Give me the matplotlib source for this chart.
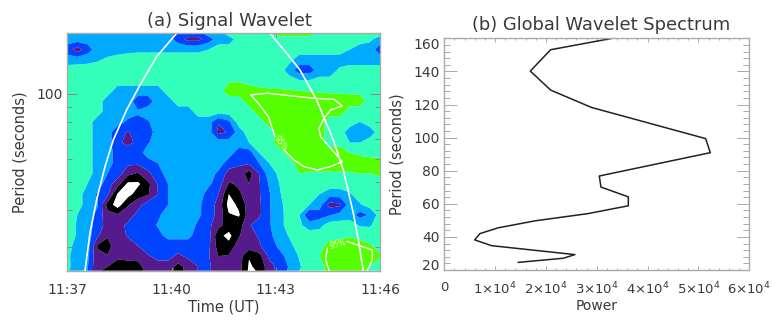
import numpy as np
import matplotlib
matplotlib.use('Agg')
import matplotlib.pyplot as plt
from matplotlib.ticker import FixedLocator, NullFormatter

# wavelet power, in colour band units
# 0 green, 1 aqua, 2 light blue, 3 blue, 4 purple, 5 black, 6 white
wave_time = [0.00, 0.29, 0.58, 0.87, 1.16, 1.45, 1.74, 2.03, 2.32, 2.61, 2.90,
             3.19, 3.48, 3.77, 4.06, 4.35, 4.65, 4.94, 5.23, 5.52, 5.81, 6.10,
             6.39, 6.68, 6.97, 7.26, 7.55, 7.84, 8.13, 8.42, 8.71, 9.00]
wave_period = [160.6, 153.1, 141.3, 130.3, 120.1, 110.7, 102.1, 94.2, 86.8,
               80.1, 73.8, 68.1, 62.8, 57.9, 53.4, 49.2, 45.4, 41.8, 38.6,
               35.6, 32.8, 30.3, 27.9, 25.7, 24.9]
wave_power = [
    [2,2,2,2,2,2,2,2,2,2,2,3,3,3,2,2,1,1,1,1,1,0,0,0,0,1,1,1,1,1,1,1],
    [2,2,2,2,2,2,2,2,2,2,2,3,3.8,3.8,3,2,2,1,1,1,1,1,1,1,1,1,1,1,1,1,1.3,2],
    [3,4,3,2,2,2,1.8,1.7,1.7,1.7,1.7,1.7,1.7,1.7,1.5,1,1,1,1,1,1,1,1,1,1,1,1,1,1.5,2,2,3],
    [2,1.9,1.8,1.6,1.3,1,1,1,1,1,1,1,1,1,1,1,1,1,1,1,1,1,1.2,2,2,2,2,2,2,2,2,2],
    [1,1,1,1,1,1,1,1,1,1,1,1,1,1,1,1,1,1,1,1,1,1,2,3,3,2,2,1.3,1,1,1,1],
    [1,1,1,1,1,1,1,1,1,1,1,1,1,1,1,1,.62,.58,.86,1,1,1,1,1.4,1.4,1.2,1.2,1,1,1,1,1],
    [1,1,1,1,1,2,2,2,2,2,1,1,1,1,1,1,0,0,0,.22,.33,.38,.44,.49,.53,.6,.65,.7,.74,.8,1,1],
    [1,1,1,1,2,2,2,3,3,2,2,1,1,1,1,1,1,1,0,0,0,0,0,0,0,0,0,0,0,0,1,1],
    [1,1,1,1,2,2,2,2.4,2,2,2,2,2,1,1,1,1,1,1,0,0,0,0,0,0,0,0,0,1,1,1,1],
    [1,1,1,2,2,2,2.7,2.7,2.6,2,2,2,2,2,2,3.4,2.7,1,1,1,0,0,0,0,0,0,1,1,1,1.5,1,1],
    [1,1,1,2,2,3.3,3.55,3.3,3,2,2,2,2,2,2,3.8,3.4,2,1,1,1,0,0,0,0,0,1,1,2,2,2,1],
    [1,1,1,2,2,3.3,3.75,3.3,2.6,2,2,2,2,2,2,2,2,2,1.5,1,1,0,0,0,0,0,1,.8,1.5,1.5,1,1],
    [1,1,1,2,2,3,3,3,2,2,2,2,2,2,2,2,2,3,3,1.5,1,1,0,0,0,0,0,0,.5,.7,.9,1],
    [1,1,1,2,2,3,3.3,3.3,3,2.5,2,2,2,2,2,2,3,3.3,3.4,2.5,1.5,1,1,0,0,0,0,0,0,0,0,0],
    [1,1,1,2,2.5,3,4.2,4.6,3.7,3,2,2,2,2,2,2.7,3.9,4,4.9,3.5,2,1.3,1,.5,.6,.6,.6,.6,.6,.5,.5,.3],
    [1,1,1.5,2,3,4.1,5.7,5.7,4.8,3.4,2.5,2,2,2,2.3,3,4.6,4.4,4.5,3.6,2.4,1.5,1,1,1,1,1,1,1,1,1,1],
    [1,1,2,2.6,3.3,5.6,5.9,5,4.6,3.5,2.5,2,2,2,2.9,3.5,5.5,4.6,4.2,3.6,2.6,1.6,1,1,1,1.5,2,2,1.6,1,1,1],
    [1,1,2,2.4,4.9,6,4.6,3.9,3,3,2.5,2,2,2.3,3,3.8,5.9,5.3,4,3.7,2.6,1.8,1,1,1.5,2,3.9,3.7,2,1.6,1,1],
    [1,1.5,2,2.8,4.2,4.4,4,3.2,3,2.7,2,2,2,2.3,3,3.8,5.4,5.6,4,3.7,2.6,1.9,1,1.5,3.55,3,2.6,2.2,2,2.9,2.4,1],
    [1,1.6,2,3,3.9,3.9,3.3,3,3,2.4,2,2,2,2.7,3.2,4.2,4.9,5,3.6,3,2.6,1.9,1,1.3,2,1.8,1,1,1,1.6,1.6,1],
    [1,1.6,2,3.3,4.4,4,3.4,3,3,2.8,2.2,2.2,2.2,3,3.1,5.2,5.8,4.6,3.8,3.4,2.7,2.1,1.4,1,1,1,1,.8,.6,.8,1,1],
    [1,2,2,4.6,4.8,4,4,3.5,3,3,3,3,3,3,3.2,5,5.2,4,3.9,3.6,3,2.3,1.8,1,1,1,0,0,0,.1,.4,.8],
    [1.3,2,2.2,4.3,4.45,4.2,4,4,3.6,3.2,3.2,3.7,3.3,3,3.4,4.5,4.4,4,5.45,4.9,3.3,2.8,2.2,1.4,1,.5,0,0,0,0,0,.4],
    [1.3,1.9,2.4,4.4,4.5,5.1,5.2,5,3.9,3.9,3.9,4.9,4.1,3.5,3.3,4.1,4.1,4.1,5.6,5.3,3.9,3.2,2.4,1.6,1,1,0,0,0,0,.5,1],
    [1.4,1.9,2.4,4.4,4.7,5.2,5.3,5.1,4,3.9,3.9,5,4.1,3.4,3.3,4.1,4.1,4.1,5.7,5.4,3.8,3.1,2.3,1.5,1,1,0,0,0,0,.8,1],
]
band_levels = [-1, 0.5, 1.5, 2.5, 3.5, 4.5, 5.5, 7]
band_colors = ['#55ff00', '#33ffbb', '#00aaff', '#0044ff', '#551a8b', '#000000', '#ffffff']

# cone of influence
coi_left_t = [0.509, 0.652, 0.844, 1.084, 1.324, 1.708, 2.092, 2.571, 3.147]
coi_left_p = [24.9, 33.4, 43.4, 56.4, 69.5, 88.0, 107.0, 133.7, 160.6]
coi_right_t = [5.834, 6.314, 6.697, 7.177, 7.657, 7.945, 8.233, 8.376, 8.520]
coi_right_p = [160.6, 137.3, 120.4, 95.1, 69.5, 54.9, 39.1, 31.7, 24.9]

# 95% contours
sig_a_t = [5.978, 5.786, 5.498, 5.277, 5.757, 7.100, 7.676, 7.916, 7.580, 7.388,
           7.244, 7.292, 7.580, 7.916, 7.580, 7.196, 6.812, 6.525, 6.237]
sig_a_p = [71.3, 83.5, 92.7, 99.0, 100.3, 96.4, 95.6, 90.8, 88.0, 82.4,
           76.2, 71.3, 65.1, 58.6, 56.4, 54.9, 56.4, 59.4, 64.3]
sig_b_t = [7.532, 7.436, 7.484]
sig_b_p = [25.0, 27.1, 29.7]
sig_c_t = [8.060, 8.780, 8.780, 8.636]
sig_c_p = [31.3, 29.3, 27.1, 25.0]

# global spectrum
global_power = [3.305e4, 2.092e4, 1.692e4, 2.092e4, 2.898e4, 5.141e4, 5.233e4,
                3.049e4, 3.082e4, 3.620e4, 3.620e4, 2.833e4, 1.784e4, 1.062e4,
                0.702e4, 0.597e4, 0.931e4, 2.570e4, 2.341e4, 1.456e4]
global_period = [160.0, 153.1, 140.2, 128.7, 118.2, 99.4, 90.9, 76.8, 70.1, 64.2,
                 58.8, 54.1, 49.7, 45.5, 42.0, 38.2, 34.7, 29.3, 27.1, 24.6]

time_ticks = [0, 3, 6, 9]
time_labels = ['11:37', '11:40', '11:43', '11:46']
period_minor = [30, 40, 50, 60, 70, 80, 90]
power_ticks = [0, 1e4, 2e4, 3e4, 4e4, 5e4, 6e4]
power_labels = ['0', '1×10$^{4}$', '2×10$^{4}$', '3×10$^{4}$', '4×10$^{4}$', '5×10$^{4}$', '6×10$^{4}$']
spec_period_ticks = [20, 40, 60, 80, 100, 120, 140, 160]

W, H = 777.0, 333.0
text_col = '#3a3a3a'
axis_col = '#aaaaaa'

plt.rcParams['font.family'] = ['DejaVu Sans']
plt.rcParams['mathtext.default'] = 'regular'
plt.rcParams['font.size'] = 10


def box(left, right, top, bottom):
    return [left/W, 1-bottom/H, (right-left)/W, (bottom-top)/H]


fig = plt.figure(figsize=(7.77, 3.33), dpi=100)

# (a)
ax1 = fig.add_axes(box(67.3, 380, 33.3, 270.7))
ax1.set_yscale('log')
ax1.contourf(wave_time, wave_period[::-1], np.array(wave_power)[::-1], levels=band_levels, colors=band_colors, antialiased=True)
ax1.plot(coi_left_t, coi_left_p, color='white', lw=1.2)
ax1.plot(coi_right_t, coi_right_p, color='white', lw=1.2)
ax1.plot(sig_a_t, sig_a_p, color='white', lw=1.0)
ax1.plot(sig_b_t, sig_b_p, color='white', lw=1.0)
ax1.plot(sig_c_t, sig_c_p, color='white', lw=1.0)
ax1.text(6.13, 67.5, '95%', color='#eeffdd', fontsize=5.5, rotation=-55, ha='center', va='center')
ax1.text(7.8, 30.7, '95%', color='#eeffdd', fontsize=5.5, rotation=15, ha='center', va='center')
ax1.set_xlim(0, 9)
ax1.set_ylim(24.9, 160.6)
ax1.set_xticks(time_ticks)
ax1.set_xticklabels(time_labels, color=text_col)
ax1.yaxis.set_major_locator(FixedLocator([100]))
ax1.yaxis.set_major_formatter(plt.FixedFormatter(['100']))
ax1.yaxis.set_minor_locator(FixedLocator(period_minor))
ax1.yaxis.set_minor_formatter(NullFormatter())
ax1.tick_params(axis='both', which='both', direction='in', top=True, right=True, color='#888888', width=0.7)
ax1.tick_params(axis='y', which='major', length=7, labelcolor=text_col)
ax1.tick_params(axis='y', which='minor', length=3.5)
ax1.tick_params(axis='x', which='major', length=3, pad=9)
ax1.set_xlabel('Time (UT)', color=text_col, fontsize=10.5, labelpad=2)
ax1.set_ylabel('Period (seconds)', color=text_col, fontsize=10.5, labelpad=6)
ax1.set_title('(a) Signal Wavelet', color=text_col, fontsize=13, pad=5, x=0.517)

# (b)
ax2 = fig.add_axes(box(444.3, 749.3, 38.3, 270))
ax2.plot(global_power, global_period, color='#222222', lw=1.1)
ax2.set_xlim(0, 6e4)
ax2.set_ylim(20, 160)
ax2.set_xticks(power_ticks)
ax2.set_xticklabels(power_labels, color=text_col, fontsize=9.5)
ax2.set_yticks(spec_period_ticks)
ax2.set_yticklabels([str(p) for p in spec_period_ticks], color=text_col)
ax2.set_xticks(np.arange(0, 6e4, 2e3), minor=True)
ax2.set_yticks(np.arange(20, 160, 4), minor=True)
ax2.get_yticklabels()[0].set_va('baseline')
ax2.get_yticklabels()[-1].set_va('top')
ax2.tick_params(axis='both', which='both', direction='in', top=True, right=True, color='#aaaaaa', width=0.7)
ax2.tick_params(axis='y', which='major', length=9)
ax2.tick_params(axis='y', which='minor', length=4.5)
ax2.tick_params(axis='x', which='major', length=3, pad=8)
ax2.tick_params(axis='x', which='minor', length=1.5)
ax2.set_xlabel('Power', color=text_col, fontsize=10, labelpad=1)
ax2.set_title('(b) Global Wavelet Spectrum', color=text_col, fontsize=12.85, pad=6, x=0.513)
ax2.set_ylabel('Period (seconds)', color=text_col, fontsize=10.5, labelpad=6)

for ax in (ax1, ax2):
    for s in ax.spines.values():
        s.set_color(axis_col)
        s.set_linewidth(1.0)

fig.savefig('out.png', dpi=100)
